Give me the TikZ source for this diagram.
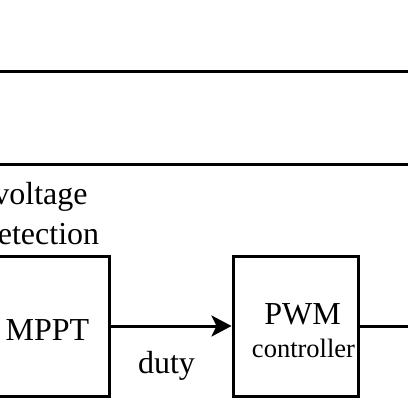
\documentclass[tikz,border=0pt]{standalone}
\usepackage{fontspec}
\setmainfont{Liberation Serif}
\usetikzlibrary{arrows.meta}

\begin{document}
\begin{tikzpicture}[x=1pt,y=1pt,yscale=-1,xscale=1,
    blk/.style={draw,line width=3,minimum width=125,minimum height=140,inner sep=0},
    txt/.style={inner sep=0,font=\fontsize{32}{40}\selectfont,align=center},
    smalltxt/.style={inner sep=0,font=\fontsize{26.5}{32}\selectfont}]
        \useasboundingbox (0,0) rectangle (408,408);

        %Straight Lines (upper band)
        \coordinate (topL) at (-10,71);
        \coordinate (topR) at (418,71);
        \coordinate (botL) at (-10,164);
        \coordinate (botR) at (418,164);
        \draw [line width=3]    (topL) -- (topR) ;
        \draw [line width=3]    (botL) -- (botR) ;

        %Shape: Rectangle
        \node [blk,minimum width=126] (mppt) at (46,326) {};
        %Shape: Rectangle
        \node [blk] (pwm) at (295.5,326) {};

        %Straight Lines
        \draw [line width=3,-{Stealth[length=20,width=21,inset=5]}]    (mppt.east) -- (pwm.west) ;
        \coordinate (out) at (418,326);
        \draw [line width=3]    (pwm.east) -- (out) ;

        % Text Node
        \node [txt] (vdet) at (40.5,214) {voltage\\detection};
        % Text Node
        \node [txt,anchor=base] (mpptlbl) at (47.5,340) {MPPT};
        % Text Node
        \node [txt,anchor=base] (duty) at (166.5,373) {duty};
        % Text Node
        \node [txt,anchor=base] (pwmlbl) at (302.5,324) {PWM};
        % Text Node
        \node [smalltxt,anchor=base] (ctrl) at (303.5,357) {controller};

\end{tikzpicture}
\end{document}
